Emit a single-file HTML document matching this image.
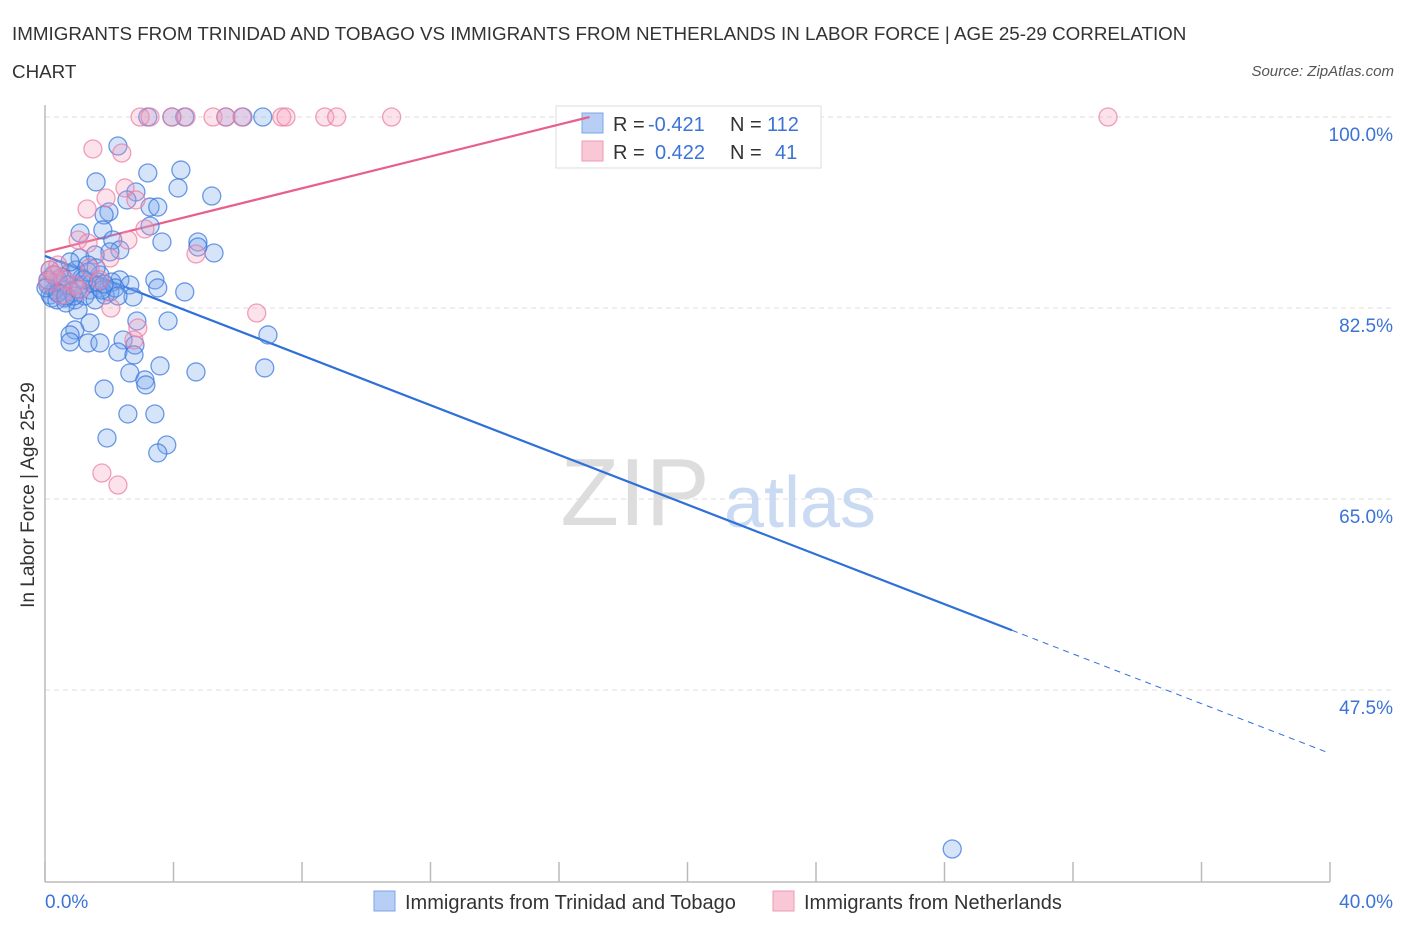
<!DOCTYPE html>
<html><head><meta charset="utf-8"><style>
body{margin:0;background:#fff;font-family:"Liberation Sans",sans-serif;}
svg text{font-family:"Liberation Sans",sans-serif;}
</style></head><body>
<svg width="1406" height="930" viewBox="0 0 1406 930">
<text x="12" y="40" font-size="18.8" fill="#333">IMMIGRANTS FROM TRINIDAD AND TOBAGO VS IMMIGRANTS FROM NETHERLANDS IN LABOR FORCE | AGE 25-29 CORRELATION</text>
<text x="12" y="78" font-size="18.8" fill="#333">CHART</text>
<text x="1394" y="76" font-size="15" fill="#555" font-style="italic" text-anchor="end">Source: ZipAtlas.com</text>
<g id="grid"></g>
<g><text x="635" y="525" font-size="96" fill="#ddd" font-family="Liberation Serif" text-anchor="middle">ZIP</text><text x="800" y="527" font-size="72" fill="#c9daf2" text-anchor="middle">atlas</text></g>
<g id="axes"></g>
<g>
<rect x="556" y="106" width="265" height="62" fill="#fff" stroke="#ddd"/>
<rect x="582" y="113" width="21" height="20" fill="#b7cff5" stroke="#7ba4e8"/>
<rect x="582" y="141" width="21" height="20" fill="#f9c7d6" stroke="#ef9ab5"/>
<text x="613" y="131" font-size="20" fill="#333">R =</text>
<text x="648" y="131" font-size="20" fill="#3b73d6">-0.421</text>
<text x="730" y="131" font-size="20" fill="#333">N =</text>
<text x="767" y="131" font-size="20" fill="#3b73d6">112</text>
<text x="613" y="159" font-size="20" fill="#333">R =</text>
<text x="655" y="159" font-size="20" fill="#3b73d6">0.422</text>
<text x="730" y="159" font-size="20" fill="#333">N =</text>
<text x="775" y="159" font-size="20" fill="#3b73d6">41</text>
</g>
<g id="lines"></g>
<g id="pts"></g>
<text x="28" y="495" font-size="19" fill="#333" text-anchor="middle" transform="rotate(-90 28 495)" dy="6">In Labor Force | Age 25-29</text>
<g>
<rect x="374" y="891" width="21" height="20" fill="#b7cff5" stroke="#7ba4e8"/>
<text x="405" y="909" font-size="20" fill="#333">Immigrants from Trinidad and Tobago</text>
<rect x="773" y="891" width="21" height="20" fill="#f9c7d6" stroke="#ef9ab5"/>
<text x="804" y="909" font-size="20" fill="#333">Immigrants from Netherlands</text>
</g>
</svg>
<script>
const yTicks=[100,82.5,65,47.5];
const yTickLabels=["100.0%","82.5%","65.0%","47.5%"];
const xTicks=[0,4,8,12,16,20,24,28,32,36,40];
const xEndLabels=["0.0%","40.0%"];
const blueX=[2.27,1.59,3.20,4.23,4.14,2.83,2.55,5.19,1.99,1.84,3.27,3.51,3.27,1.09,1.80,2.11,3.64,4.76,4.76,5.26,2.33,2.02,1.56,1.09,1.34,0.47,0.78,1.71,2.33,3.42,2.64,3.51,4.35,1.09,1.40,1.71,2.02,0.47,0.31,0.16,0.62,0.93,1.24,1.56,1.87,2.74,1.03,1.40,0.93,0.78,6.94,2.86,3.83,2.43,2.80,1.34,1.71,0.78,2.27,2.77,3.58,4.70,2.64,3.11,6.84,1.84,3.14,2.58,3.42,1.93,3.79,3.51,28.24,6.16,6.78,4.35,3.95,3.20,5.63,0.25,0.09,0.40,0.53,0.72,0.84,1.15,1.46,1.65,1.77,0.22,0.37,0.65,0.09,0.03,2.08,2.18,1.34,1.59,0.96,0.78,1.21,0.53,0.16,0.90,1.84,2.27,0.40,0.65,1.03];
const blueY=[97.34,94.05,94.87,95.14,93.50,93.13,92.40,92.76,91.30,91.02,91.75,91.75,90.01,89.37,89.65,88.73,88.55,88.55,88.09,87.54,87.82,87.64,87.36,87.08,86.44,85.98,85.71,85.53,85.07,85.07,84.61,84.34,83.97,84.61,84.15,84.34,83.97,84.61,84.15,83.69,83.42,83.24,83.60,83.24,83.69,83.51,82.32,81.13,80.49,80.03,80.03,81.31,81.31,79.57,79.11,79.30,79.30,79.39,78.47,78.20,77.19,76.64,76.55,75.91,77.01,75.08,75.45,72.79,72.79,70.59,69.95,69.22,32.93,100,100,100,100,100,100,85.53,84.61,85.07,84.15,84.61,83.97,85.25,84.79,84.88,84.15,83.42,83.24,82.96,85.07,84.34,84.88,84.34,85.80,86.17,85.98,86.72,85.07,85.34,85.98,83.60,84.70,83.60,83.88,83.60,84.24];
const pinkX=[1.49,2.39,2.49,1.90,1.31,2.83,3.11,2.58,1.03,1.34,2.02,4.70,6.59,2.05,2.89,2.77,1.77,2.27,2.96,3.27,3.95,4.39,5.23,5.63,6.13,7.37,7.50,8.71,9.08,10.79,33.09,0.16,0.40,0.62,0.09,0.93,0.31,1.40,0.53,1.71,1.09];
const pinkY=[97.07,96.70,93.50,92.58,91.57,92.40,89.74,88.73,88.73,88.45,87.08,87.45,82.04,82.50,80.67,79.57,67.38,66.28,100,100,100,100,100,100,100,100,100,100,100,100,100,85.98,86.44,85.07,84.88,84.61,85.53,86.17,83.69,85.07,84.15];
const blueTrend=[87.27,-1.1395];
const blueSolidEnd=30.1, blueDashEnd=40;
const pinkTrend=[87.63,0.7298];
const pinkEnd=16.95;

const X0=45,X1=1330,Y100=117,PX_PER=10.914;
const sx=v=>X0+(v/40)*(X1-X0);
const sy=v=>Y100+(100-v)*PX_PER;
const NS="http://www.w3.org/2000/svg";
function mk(tag,attrs,parent){const e=document.createElementNS(NS,tag);for(const k in attrs)e.setAttribute(k,attrs[k]);parent.appendChild(e);return e;}
const grid=document.getElementById('grid'),axes=document.getElementById('axes'),lines=document.getElementById('lines'),pts=document.getElementById('pts');
yTicks.forEach((t,i)=>{
  const l=mk('line',{x1:X0,x2:1395,y1:sy(t),y2:sy(t),stroke:'#ddd','stroke-dasharray':'5,4'},grid);
  
  
  const tx=mk('text',{x:1393,y:sy(t)+24,'font-size':19,fill:'#3b73d6','text-anchor':'end'},axes);
  tx.textContent=yTickLabels[i];
  
  
});
let a=mk('line',{x1:X0,x2:X0,y1:105,y2:882,stroke:'#bbb','stroke-width':1.5},axes);


a=mk('line',{x1:X0,x2:X1,y1:882,y2:882,stroke:'#bbb','stroke-width':1.5},axes);


xTicks.forEach(t=>{
  const l=mk('line',{x1:sx(t),x2:sx(t),y1:862,y2:882,stroke:'#bbb','stroke-width':1.5},axes);
  
  
});
[[0,'start',45],[40,'end',1393]].forEach((d,i)=>{
  const tx=mk('text',{x:d[2],y:908,'font-size':19,fill:'#3b73d6','text-anchor':d[1]},axes);
  tx.textContent=xEndLabels[i];
  
  
});
function pt(x,y,fill,stroke){const c=mk('circle',{cx:sx(x),cy:sy(y),r:9,fill:fill,stroke:stroke,'stroke-width':1.3},pts);return c;}
blueX.forEach((x,i)=>{const c=pt(x,blueY[i],'rgba(120,165,235,0.3)','rgba(60,120,220,0.75)');
  
  });
pinkX.forEach((x,i)=>{const c=pt(x,pinkY[i],'rgba(245,160,190,0.3)','rgba(235,120,160,0.7)');
  
  });
const by=x=>blueTrend[0]+blueTrend[1]*x, py=x=>pinkTrend[0]+pinkTrend[1]*x;
let t=mk('line',{x1:sx(0),y1:sy(by(0)),x2:sx(blueSolidEnd),y2:sy(by(blueSolidEnd)),stroke:'#2f6fd8','stroke-width':2.2},lines);


t=mk('line',{x1:sx(blueSolidEnd),y1:sy(by(blueSolidEnd)),x2:sx(blueDashEnd),y2:sy(by(blueDashEnd)),stroke:'#2f6fd8','stroke-width':1,'stroke-dasharray':'6,5'},lines);


t=mk('line',{x1:sx(0),y1:sy(py(0)),x2:sx(pinkEnd),y2:sy(py(pinkEnd)),stroke:'#e8608a','stroke-width':2.2},lines);


</script>
</body></html>
